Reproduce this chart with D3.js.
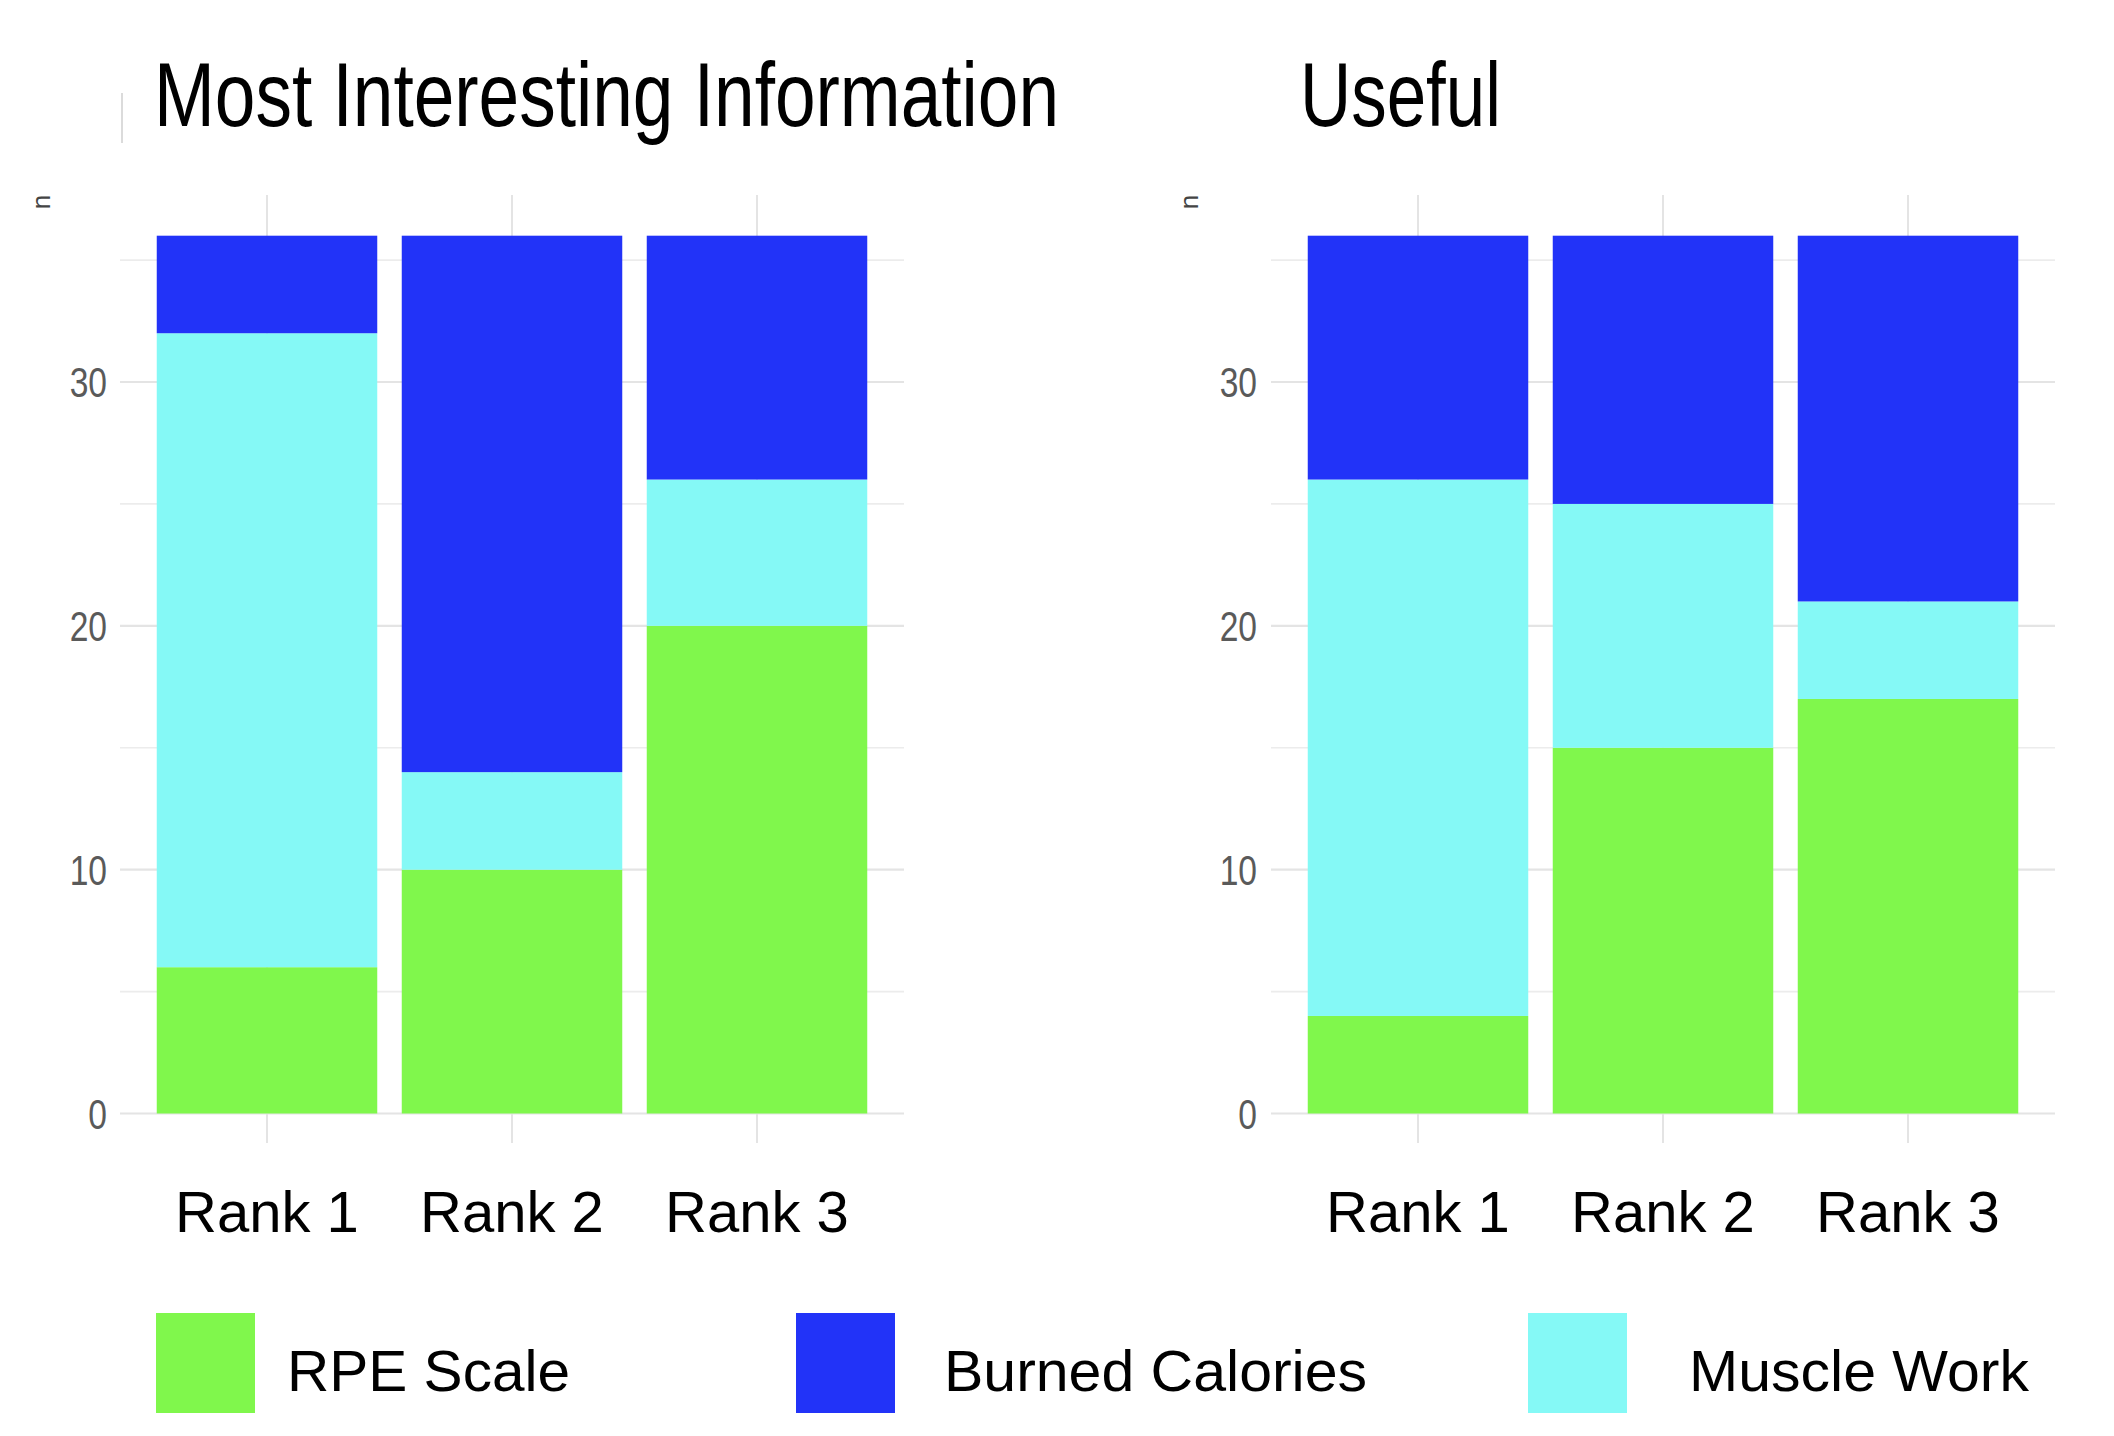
<!DOCTYPE html>
<html>
<head>
<meta charset="utf-8">
<script src="https://cdn.jsdelivr.net/npm/d3@7"></script>
<style>
  html, body { margin: 0; padding: 0; background: #fff; }
  svg { display: block; }
</style>
</head>
<body>
<svg id="chart" width="2114" height="1436"></svg>
<script>
// ---- data ----
const categories = ["Rank 1", "Rank 2", "Rank 3"];
const seriesNames = ["RPE Scale", "Muscle Work", "Burned Calories"]; // stacking order bottom -> top
const legendOrder = ["RPE Scale", "Burned Calories", "Muscle Work"];
const panelTitles = ["Most Interesting Information", "Useful"];
// panel 1: Most Interesting Information
const interestingRPE = [6, 10, 20];
const interestingMuscle = [26, 4, 6];
const interestingCalories = [4, 22, 10];
// panel 2: Useful
const usefulRPE = [4, 15, 17];
const usefulMuscle = [22, 10, 4];
const usefulCalories = [10, 11, 15];
const yTicks = [0, 10, 20, 30];
const yMinorTicks = [5, 15, 25, 35];

const colors = { "RPE Scale": "#80f74c", "Muscle Work": "#85f9f6", "Burned Calories": "#2233f8" };

const panelsData = [
  { title: panelTitles[0], values: { "RPE Scale": interestingRPE, "Muscle Work": interestingMuscle, "Burned Calories": interestingCalories } },
  { title: panelTitles[1], values: { "RPE Scale": usefulRPE, "Muscle Work": usefulMuscle, "Burned Calories": usefulCalories } }
];

// ---- layout ----
const svg = d3.select("#chart");
const y = d3.scaleLinear().domain([0, 30]).range([1113.5, 382]);
const panelTop = 195, panelBottom = 1143;
const layouts = [
  { x0: 120, x1: 904, titleX: 154, titleW: 905, tickX: 107, nX: 42 },
  { x0: 1271, x1: 2055, titleX: 1300, titleW: 201, tickX: 1257, nX: 1190 }
];
const font = "Liberation Sans, Arial, Helvetica, sans-serif";

// decorative thin line near top-left
svg.append("line").attr("x1", 122).attr("x2", 122).attr("y1", 93).attr("y2", 143)
  .attr("stroke", "#cfcfcf").attr("stroke-width", 1.5);

panelsData.forEach((p, i) => {
  const L = layouts[i];
  const g = svg.append("g");
  // ggplot-like: expand 0.6 units each side and bar width 0.9
  const step = (L.x1 - L.x0) / (categories.length - 1 + 1.2);
  const cx = d3.scalePoint().domain(categories).range([L.x0 + 0.6 * step, L.x1 - 0.6 * step]);
  const barW = 0.9 * step;

  // gridlines
  yMinorTicks.forEach(t => {
    g.append("line").attr("x1", L.x0).attr("x2", L.x1).attr("y1", y(t)).attr("y2", y(t))
      .attr("stroke", "#ececec").attr("stroke-width", 1.6);
  });
  yTicks.forEach(t => {
    g.append("line").attr("x1", L.x0).attr("x2", L.x1).attr("y1", y(t)).attr("y2", y(t))
      .attr("stroke", "#e4e4e4").attr("stroke-width", 2.2);
  });
  categories.forEach(c => {
    g.append("line").attr("x1", cx(c)).attr("x2", cx(c)).attr("y1", panelTop).attr("y2", panelBottom)
      .attr("stroke", "#e4e4e4").attr("stroke-width", 2);
  });

  // stacked bars
  const rows = categories.map((c, j) => {
    const r = { cat: c };
    seriesNames.forEach(s => r[s] = p.values[s][j]);
    return r;
  });
  const stack = d3.stack().keys(seriesNames)(rows);
  stack.forEach(layer => {
    g.append("g").selectAll("rect").data(layer).join("rect")
      .attr("x", d => cx(d.data.cat) - barW / 2)
      .attr("width", barW)
      .attr("y", d => y(d[1]))
      .attr("height", d => y(d[0]) - y(d[1]))
      .attr("fill", colors[layer.key]);
  });

  // y tick labels (condensed)
  yTicks.forEach(t => {
    g.append("g").attr("transform", `translate(${L.tickX},${y(t) + 15}) scale(0.8,1)`)
      .append("text").attr("text-anchor", "end").attr("font-family", font)
      .attr("font-size", 42).attr("fill", "#5a5a5a").text(t);
  });

  // y axis title "n"
  svg.append("text").attr("transform", `translate(${L.nX + 8},${202}) rotate(-90)`)
    .attr("text-anchor", "middle").attr("font-family", font).attr("font-size", 26)
    .attr("fill", "#444").text("n");

  // x labels
  categories.forEach(c => {
    g.append("text").attr("x", cx(c)).attr("y", 1232).attr("text-anchor", "middle")
      .attr("font-family", font).attr("font-size", 58).attr("fill", "#000").text(c);
  });

  // title
  svg.append("text").attr("x", L.titleX).attr("y", 126).attr("font-family", font)
    .attr("font-size", 90).attr("fill", "#000")
    .attr("textLength", L.titleW).attr("lengthAdjust", "spacingAndGlyphs").text(p.title);
});

// legend
const legendPos = [
  { sx: 156, tx: 287, tw: 283 },
  { sx: 796, tx: 944, tw: 423 },
  { sx: 1528, tx: 1689, tw: 340 }
];
legendOrder.forEach((s, k) => {
  const P = legendPos[k];
  svg.append("rect").attr("x", P.sx).attr("y", 1313).attr("width", 99).attr("height", 100).attr("fill", colors[s]);
  svg.append("text").attr("x", P.tx).attr("y", 1391).attr("font-family", font)
    .attr("font-size", 58).attr("fill", "#000")
    .attr("textLength", P.tw).attr("lengthAdjust", "spacingAndGlyphs").text(s);
});
</script>
</body>
</html>
